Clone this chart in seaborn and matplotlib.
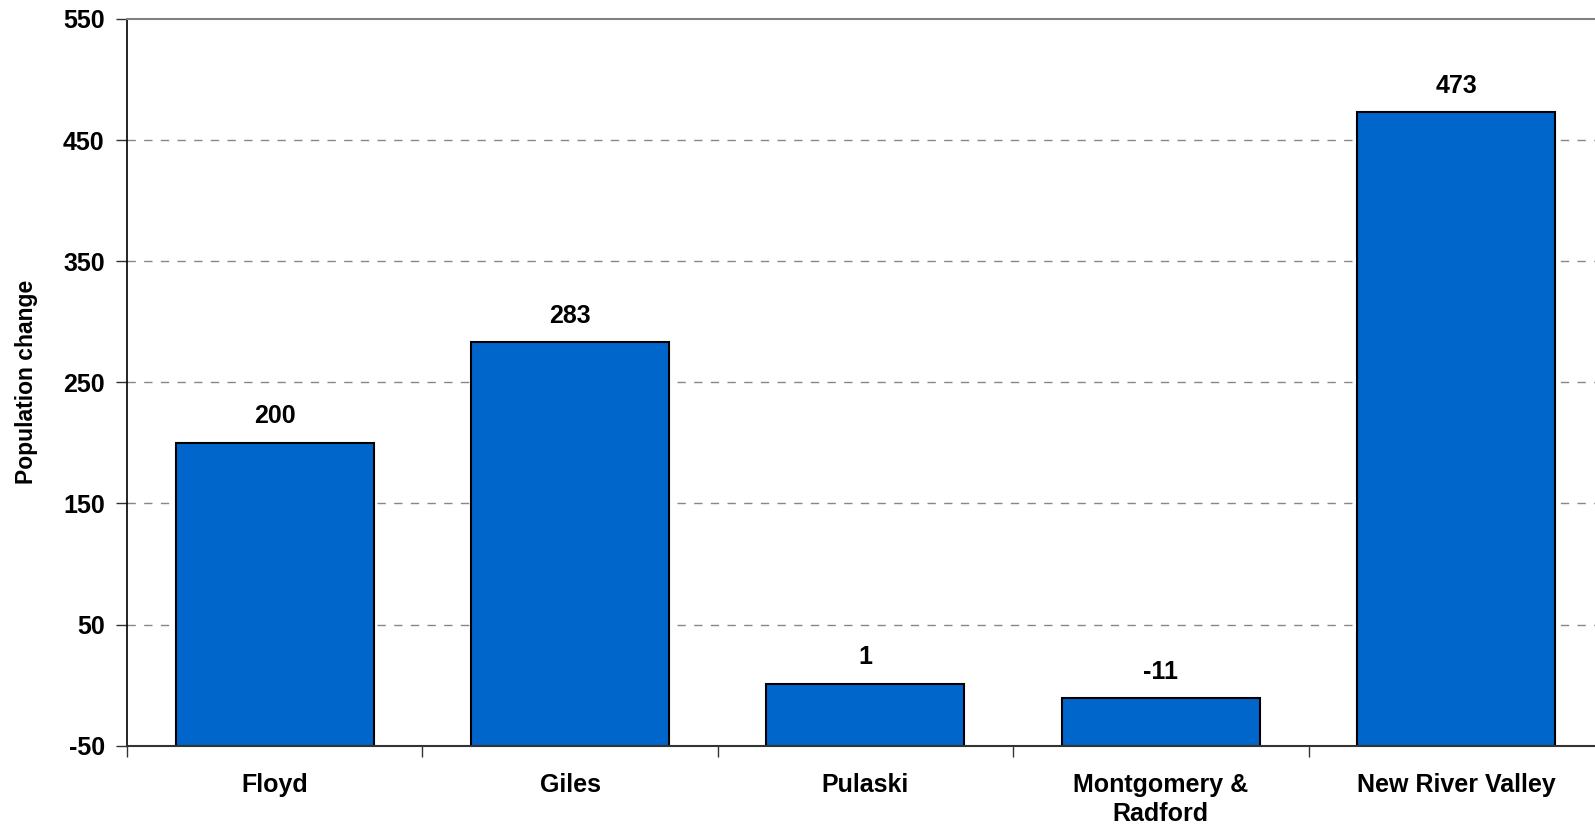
import numpy as np
import pandas as pd
import matplotlib
matplotlib.use("Agg")
import matplotlib.pyplot as plt
import seaborn as sns

# --- data ---
regions = ['Floyd', 'Giles', 'Pulaski', 'Montgomery &\nRadford', 'New River Valley']
pop_change = [200, 283, 1, -11, 473]
y_ticks = [-50, 50, 150, 250, 350, 450, 550]
y_floor = -50

df = pd.DataFrame({'Region': regions, 'Change': pop_change})

sns.set_style("white")
plt.rcParams['font.family'] = ['Liberation Sans', 'DejaVu Sans']
plt.rcParams['text.color'] = 'black'
plt.rcParams['axes.labelcolor'] = 'black'
plt.rcParams['xtick.color'] = 'black'
plt.rcParams['ytick.color'] = 'black'

fig = plt.figure(figsize=(15.95, 8.25), dpi=100)
ax = fig.add_axes([0.0796, 0.0961, 0.926, 0.8809])

# bars are drawn up from the axis floor (-50)
df['Height'] = df['Change'] - y_floor
sns.barplot(data=df, x='Region', y='Height', color='#0066CC', width=0.67,
            edgecolor='black', linewidth=1.5, saturation=1, ax=ax)
for p in ax.patches:
    p.set_y(y_floor)

ax.set_ylim(-50, 550)
ax.set_xlim(-0.5, 4.5)
ax.set_yticks(y_ticks)
ax.set_yticklabels([str(t) for t in y_ticks], fontsize=18, fontweight='bold')

# value labels
for i, v in enumerate(df['Change']):
    ax.text(i, v + 12, str(v), ha='center', va='bottom',
            fontsize=18, fontweight='bold', color='black')

# gridlines
for t in y_ticks[1:-1]:
    ax.axhline(t, color='#888888', linestyle=(0, (6, 6)), linewidth=1, zorder=0)

# x ticks at category boundaries
ax.set_xticks(range(len(regions)))
ax.set_xticklabels(regions, fontsize=18, fontweight='bold', linespacing=1.25)
ax.set_xticks(np.arange(-0.5, len(regions), 1), minor=True)
ax.tick_params(axis='x', which='major', length=0, pad=20)
ax.tick_params(axis='x', which='minor', length=8, width=1, color='#333333', direction='out', bottom=True)
ax.tick_params(axis='y', which='major', length=8, width=1, color='#333333', direction='out', left=True, pad=8)

ax.set_xlabel('')
ax.set_ylabel('Population change', fontsize=16.5, fontweight='bold', labelpad=18)

ax.spines['right'].set_visible(False)
ax.spines['left'].set_color('black')
ax.spines['left'].set_linewidth(1.2)
ax.spines['bottom'].set_color('#333333')
ax.spines['bottom'].set_linewidth(1.5)
ax.spines['top'].set_color('#808080')
ax.spines['top'].set_linewidth(1.5)

fig.savefig('out.png', dpi=100)
